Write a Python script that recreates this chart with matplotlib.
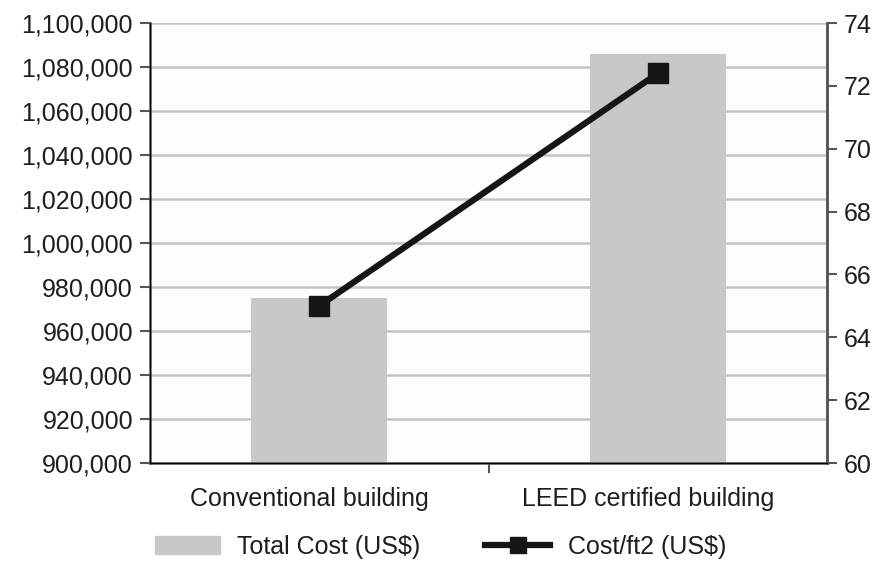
import matplotlib.pyplot as plt
from matplotlib.ticker import FuncFormatter
from matplotlib.lines import Line2D
from matplotlib.patches import Patch

plt.rcParams['font.family'] = ['Liberation Sans', 'DejaVu Sans']

categories = ['Conventional building', 'LEED certified building']
total_cost = [975000, 1086000]
cost_per_ft2 = [65.0, 72.4]

fig = plt.figure(figsize=(8.81, 5.62), dpi=100)
ax = fig.add_axes([0.170, 0.176, 0.769, 0.783])
ax.set_facecolor('#fefdfc')

x = [0, 1]
ax.bar(x, total_cost, width=0.4, color='#c8c8c8', zorder=2)
ax.set_xlim(-0.5, 1.5)
ax.set_ylim(900000, 1100000)
ax.set_yticks(range(900000, 1100001, 20000))
ax.yaxis.set_major_formatter(FuncFormatter(lambda v, p: f'{int(v):,}'))
ax.grid(axis='y', color='#c4c4c4', linewidth=1.8, zorder=0)
ax.set_xticks([0.5])
ax.set_xticklabels([''])
ax.tick_params(axis='x', length=7, width=1.5, color='#555555')
ax.tick_params(axis='y', length=7, width=1.5, color='#555555', labelsize=18,
               pad=5, labelcolor='#1e1e1e')
for i, c in enumerate(categories):
    ax.text(x[i] - 0.03, -0.055, c, transform=ax.get_xaxis_transform(),
            ha='center', va='top', fontsize=18, color='#1e1e1e')
ax.spines['top'].set_visible(False)
for s in ['left', 'bottom', 'right']:
    ax.spines[s].set_color('#555555')
    ax.spines[s].set_linewidth(1.8)

ax2 = ax.twinx()
ax2.plot(x, cost_per_ft2, color='#161616', linewidth=4.5, marker='s',
         markersize=14, zorder=3)
ax2.set_ylim(60, 74)
ax2.set_yticks(range(60, 75, 2))
ax2.tick_params(axis='y', length=7, width=1.5, color='#555555', labelsize=18,
                pad=5, labelcolor='#1e1e1e')
ax2.spines['top'].set_visible(False)
ax2.spines['right'].set_color('#555555')
ax2.spines['right'].set_linewidth(1.8)

handles = [Patch(color='#c8c8c8'),
           Line2D([0], [0], color='#161616', linewidth=4.5, marker='s', markersize=12)]
fig.legend(handles, ['Total Cost (US$)', 'Cost/ft2 (US$)'], loc='center',
           bbox_to_anchor=(0.5, 0.027), ncol=2, frameon=False, fontsize=18,
           handlelength=2.6, handletextpad=0.7, columnspacing=2.6,
           labelcolor='#1e1e1e')

fig.savefig('out.png', dpi=100, facecolor='white')
